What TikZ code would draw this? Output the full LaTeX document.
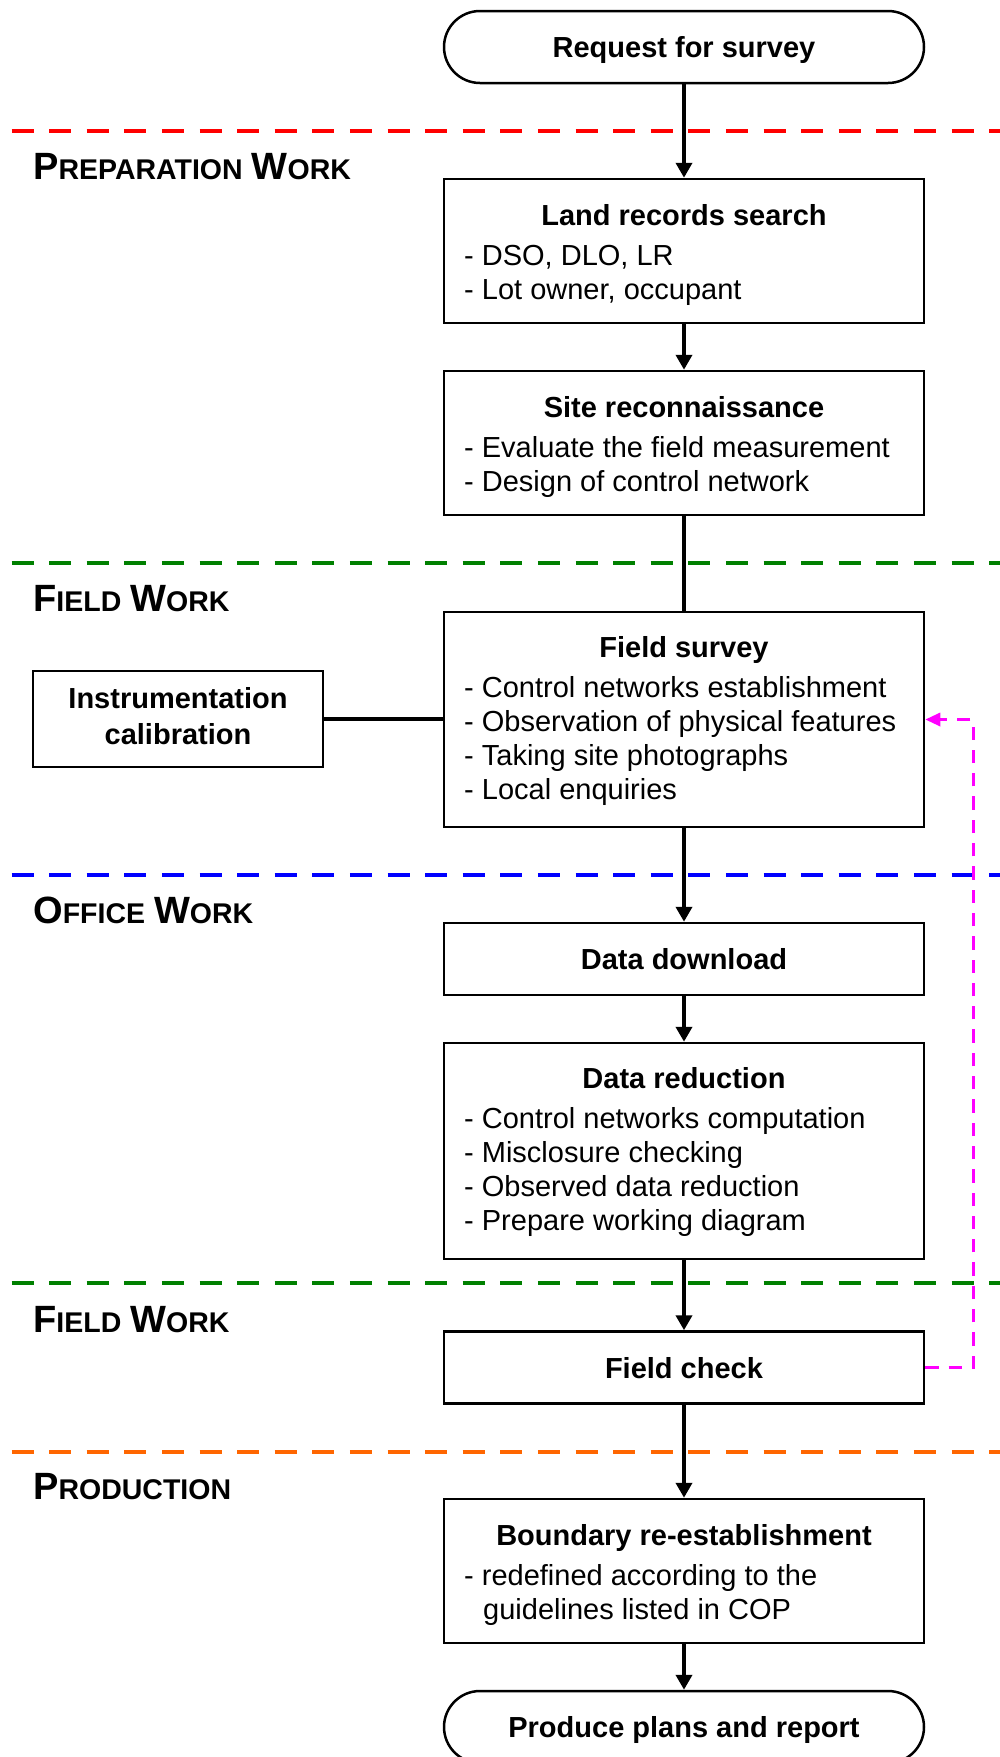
\documentclass[tikz,border=0pt]{standalone}
\usepackage{fontspec}
\setmainfont{Liberation Sans}
\usetikzlibrary{arrows.meta}

\definecolor{phasered}{RGB}{255,0,0}
\definecolor{phasegreen}{RGB}{0,128,0}
\definecolor{phaseblue}{RGB}{0,0,255}
\definecolor{phaseorange}{RGB}{255,102,0}
\definecolor{loopmagenta}{RGB}{255,0,255}

% fake small caps for the phase headings
\newcommand\phasecaps[2]{{\fontsize{38}{40}\selectfont #1}{\fontsize{28.5}{30}\selectfont #2}}
\newcommand\phasegap{\hspace{9pt}}

\tikzset{
  stepbox/.style={draw, line width=2.5pt, minimum width=480pt, inner sep=0pt},
  onebox/.style={stepbox, minimum height=72pt, text height=21pt, text depth=0pt,
                 font=\fontsize{29}{34}\selectfont\bfseries},
  terminal/.style={onebox, rounded corners=36pt},
  boxtitle/.style={inner sep=0pt, anchor=base, font=\fontsize{29}{34}\selectfont\bfseries},
  boxline/.style={inner sep=0pt, anchor=base west, font=\fontsize{29}{34}\selectfont},
  flow/.style={line width=4pt, -{Triangle[length=15pt,width=16pt]}},
  plain/.style={line width=4pt},
  phase/.style={line width=4.5pt, dash pattern=on 22pt off 15.6pt},
  phaselabel/.style={inner sep=0pt, anchor=base west, font=\bfseries},
  feedback/.style={line width=3.2pt, loopmagenta, dash pattern=on 13.3pt off 10pt,
                   -{Triangle[length=15pt,width=13pt]}},
}

\begin{document}
\begin{tikzpicture}[x=1pt, y=-1pt]
\useasboundingbox (0,0) rectangle (1000,1757);
\clip (0,0) rectangle (1000,1757);
\fill[white] (0,0) rectangle (1000,1757);

% phase separators
\draw[phase, phasered]    (11.5,131)  -- (1000,131);
\draw[phase, phasegreen]  (11.5,563)  -- (1000,563);
\draw[phase, phaseblue]   (11.5,875)  -- (1000,875);
\draw[phase, phasegreen]  (11.5,1283) -- (1000,1283);
\draw[phase, phaseorange] (11.5,1452) -- (1000,1452);

% phase headings
\node[phaselabel] (hprep)   at (33,179)  {\phasecaps{P}{REPARATION}\phasegap\phasecaps{W}{ORK}};
\node[phaselabel] (hfield)  at (33,611)  {\phasecaps{F}{IELD}\phasegap\phasecaps{W}{ORK}};
\node[phaselabel] (hoffice) at (33,923)  {\phasecaps{O}{FFICE}\phasegap\phasecaps{W}{ORK}};
\node[phaselabel] (hcheck)  at (33,1332) {\phasecaps{F}{IELD}\phasegap\phasecaps{W}{ORK}};
\node[phaselabel] (hprod)   at (33,1499) {\phasecaps{P}{RODUCTION}};

% start
\node[terminal] (request) at (684,47) {Request for survey};

% land records search
\node[stepbox, minimum height=144pt] (land) at (684,251) {};
\node[boxtitle] (landT) at (684,225) {Land records search};
\node[boxline] (landA) at (464,265) {- DSO, DLO, LR};
\node[boxline] (landB) at (464,299) {- Lot owner, occupant};

% site reconnaissance
\node[stepbox, minimum height=144pt] (site) at (684,443) {};
\node[boxtitle] (siteT) at (684,417) {Site reconnaissance};
\node[boxline] (siteA) at (464,457) {- Evaluate the field measurement};
\node[boxline] (siteB) at (464,491) {- Design of control network};

% field survey
\node[stepbox, minimum height=215pt] (survey) at (684,719.5) {};
\node[boxtitle] (surveyT) at (684,657) {Field survey};
\node[boxline] (surveyA) at (464,697) {- Control networks establishment};
\node[boxline] (surveyB) at (464,731) {- Observation of physical features};
\node[boxline] (surveyC) at (464,765) {- Taking site photographs};
\node[boxline] (surveyD) at (464,799) {- Local enquiries};

% instrumentation calibration
\node[draw, line width=2.5pt, minimum width=290pt, minimum height=96pt, inner sep=0pt]
  (instr) at (178,719) {};
\node[boxtitle] (instrA) at (178,708) {Instrumentation};
\node[boxtitle] (instrB) at (178,744) {calibration};

% data download
\node[onebox] (download) at (684,959) {Data download};

% data reduction
\node[stepbox, minimum height=216pt] (reduction) at (684,1151) {};
\node[boxtitle] (reductionT) at (684,1088) {Data reduction};
\node[boxline] (reductionA) at (464,1128) {- Control networks computation};
\node[boxline] (reductionB) at (464,1162) {- Misclosure checking};
\node[boxline] (reductionC) at (464,1196) {- Observed data reduction};
\node[boxline] (reductionD) at (464,1230) {- Prepare working diagram};

% field check
\node[onebox] (check) at (684,1367.5) {Field check};

% boundary re-establishment
\node[stepbox, minimum height=144pt] (boundary) at (684,1571) {};
\node[boxtitle] (boundaryT) at (684,1545) {Boundary re-establishment};
\node[boxline] (boundaryA) at (464,1585) {- redefined according to the};
\node[boxline] (boundaryB) at (483,1619) {guidelines listed in COP};

% end
\node[terminal] (produce) at (684,1727) {Produce plans and report};

% connectors
\draw[flow]  (request) -- (land);
\draw[flow]  (land) -- (site);
\draw[plain] (site) -- (survey);
\draw[flow]  (survey) -- (download);
\draw[flow]  (download) -- (reduction);
\draw[flow]  (reduction) -- (check);
\draw[flow]  (check) -- (boundary);
\draw[flow]  (boundary) -- (produce);
\draw[line width=4.5pt] (instr.east) -- (instr.east -| survey.west);
\draw[feedback] (check.east) -- ++(48,0) |- (survey.east);
\end{tikzpicture}
\end{document}
